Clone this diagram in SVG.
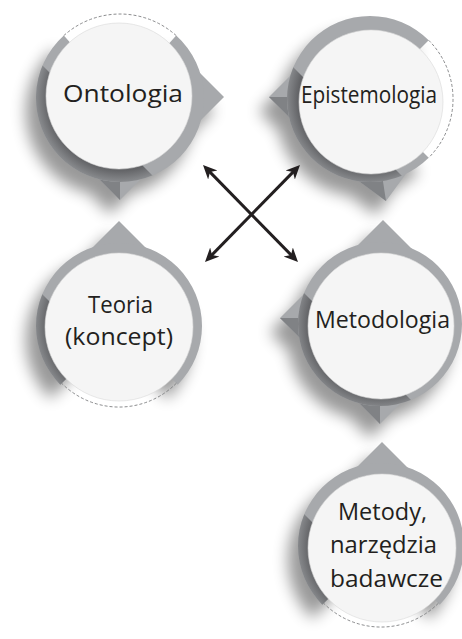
<svg xmlns="http://www.w3.org/2000/svg" width="462" height="639" viewBox="0 0 462 639">
<defs>
<style>
.light{fill:#a7a9ac}
.dark{fill:#808285}
.shade{fill:url(#shadeGrad)}
.shadow{fill:#000}
.disc{fill:#f5f5f5;stroke:#d9d9d9;stroke-width:0.6}
.dash{fill:none;stroke:#6d6e71;stroke-width:0.8;stroke-dasharray:3 2}
.lbl{font-family:"Open Sans","Noto Sans","DejaVu Sans",sans-serif;font-size:23px;fill:#231f20;text-anchor:middle}
.arrow{fill:none;stroke:#231f20;stroke-width:3;marker-start:url(#ah);marker-end:url(#ah)}
</style>
<radialGradient id="shadeGrad" gradientUnits="userSpaceOnUse" cx="0" cy="0" r="84">
<stop offset="0.86" stop-color="#636467"/>
<stop offset="1" stop-color="#898b8e"/>
</radialGradient>
<filter id="blur" x="-50%" y="-50%" width="200%" height="200%"><feGaussianBlur stdDeviation="7.5"/></filter>
<marker id="ah" viewBox="0 -8 16 16" refX="5" refY="0" markerWidth="16" markerHeight="16" markerUnits="userSpaceOnUse" orient="auto-start-reverse"><path d="M14,0 L0,-6.5 L4,0 L0,6.5 Z" fill="#231f20"/></marker>

<path id="ringA" d="M0,0 L56.2,-62.4 A84,84 0 1 1 -56.2,-62.4 Z"/>
<path id="ptrA" d="M104,-1 L68,35 L68,-37 Z M0,102 L-36,66 L36,66 Z"/>
<path id="ringB" d="M0,0 L58.7,58.7 A83,83 0 1 1 58.7,-58.7 Z"/>
<path id="ptrB" d="M-101,-2 L-65,-38 L-65,34 Z M16,102 L-25,72 L46,61 Z"/>
<path id="ringC" d="M0,0 L-58.7,58.7 A83,83 0 1 1 58.7,58.7 Z"/>
<path id="ptrC" d="M0,-105 L36,-69 L-36,-69 Z"/>
<path id="ringD" d="M-82,0 A82,82 0 1 1 82,0 A82,82 0 1 1 -82,0 Z"/>
<path id="ptrD" d="M3,-104 L39,-68 L-33,-68 Z M-100,-6 L-64,-42 L-64,30 Z M0,100 L-36,64 L36,64 Z"/>
<path id="ringE" d="M0,0 L-58.7,58.7 A83,83 0 1 1 58.7,58.7 Z"/>
<path id="ptrE" d="M1,-104 L37,-68 L-35,-68 Z"/>

<clipPath id="clipA"><use href="#ringA"/></clipPath>
<clipPath id="clipB"><use href="#ringB"/></clipPath>
<clipPath id="clipC"><use href="#ringC"/></clipPath>
<clipPath id="clipD"><use href="#ringD"/></clipPath>
<clipPath id="clipE"><use href="#ringE"/></clipPath>
</defs>

<rect x="0" y="0" width="462" height="639" fill="#ffffff"/>

<g id="node-ontologia" transform="translate(120,98)">
  <g class="shadow" filter="url(#blur)" opacity="0.4" transform="translate(-10,14)"><use href="#ptrA"/><use href="#ringA"/></g>
  <use href="#ptrA" class="light"/>
  <polygon class="dark" points="0,102 -36,66 0,66"/>
  <use href="#ringA" class="light"/>
  <g clip-path="url(#clipA)"><polygon class="shade" points="-220,-175 -220,220 175,220"/></g>
  <path class="dash" d="M-56.2,-62.4 A84,84 0 0 1 56.2,-62.4"/>
  <circle class="disc" cx="-1" cy="-2" r="73"/>
  <text class="lbl" x="3" y="4" textLength="120" lengthAdjust="spacingAndGlyphs">Ontologia</text>
</g>

<g id="node-epistemologia" transform="translate(370,99)">
  <g class="shadow" filter="url(#blur)" opacity="0.4" transform="translate(-10,14)"><use href="#ptrB"/><use href="#ringB"/></g>
  <use href="#ptrB" class="light"/>
  <polygon class="dark" points="-101,-2 -65,34 -65,-2"/>
  <polygon class="dark" points="16,102 -25,72 10.5,66.2"/>
  <use href="#ringB" class="light"/>
  <g clip-path="url(#clipB)"><polygon class="shade" points="-220,-175 -220,220 175,220"/></g>
  <path class="dash" d="M58.7,-58.7 A83,83 0 0 1 58.7,58.7"/>
  <circle class="disc" cx="1" cy="3" r="72"/>
  <text class="lbl" x="-1" y="4" textLength="136" lengthAdjust="spacingAndGlyphs">Epistemologia</text>
</g>

<g id="node-teoria" transform="translate(119,326)">
  <g class="shadow" filter="url(#blur)" opacity="0.4" transform="translate(-10,14)"><use href="#ptrC"/><use href="#ringC"/></g>
  <use href="#ptrC" class="light"/>
  <use href="#ringC" class="light"/>
  <g clip-path="url(#clipC)"><polygon class="shade" points="-220,-175 -220,220 175,220"/></g>
  <path class="dash" d="M57.3,57.3 A81,81 0 0 1 -57.3,57.3"/>
  <circle class="disc" cx="0" cy="1" r="74"/>
  <text class="lbl" x="1.5" y="-13" textLength="65" lengthAdjust="spacingAndGlyphs">Teoria</text>
  <text class="lbl" x="0" y="19" textLength="108" lengthAdjust="spacingAndGlyphs">(koncept)</text>
</g>

<g id="node-metodologia" transform="translate(380,324)">
  <g class="shadow" filter="url(#blur)" opacity="0.4" transform="translate(-10,14)"><use href="#ptrD"/><use href="#ringD"/></g>
  <use href="#ptrD" class="light"/>
  <polygon class="dark" points="-100,-6 -64,30 -64,-6"/>
  <polygon class="dark" points="0,100 -36,64 0,64"/>
  <use href="#ringD" class="light"/>
  <g clip-path="url(#clipD)"><polygon class="shade" points="-220,-175 -220,220 175,220"/></g>
  <circle class="disc" cx="1" cy="2" r="73"/>
  <text class="lbl" x="2.5" y="4" textLength="135" lengthAdjust="spacingAndGlyphs">Metodologia</text>
</g>

<g id="node-metody" transform="translate(381,546)">
  <g class="shadow" filter="url(#blur)" opacity="0.4" transform="translate(-10,14)"><use href="#ptrE"/><use href="#ringE"/></g>
  <use href="#ptrE" class="light"/>
  <use href="#ringE" class="light"/>
  <g clip-path="url(#clipE)"><polygon class="shade" points="-220,-175 -220,220 175,220"/></g>
  <path class="dash" d="M57.3,57.3 A81,81 0 0 1 -57.3,57.3"/>
  <circle class="disc" cx="1" cy="2" r="74"/>
  <text class="lbl" x="1.5" y="-26" textLength="89" lengthAdjust="spacingAndGlyphs">Metody,</text>
  <text class="lbl" x="2.5" y="7" textLength="107" lengthAdjust="spacingAndGlyphs">narzędzia</text>
  <text class="lbl" x="5.5" y="41" textLength="113" lengthAdjust="spacingAndGlyphs">badawcze</text>
</g>

<g id="connectors">
  <path class="arrow" d="M209.3,171.4 L291.7,255.6"/>
  <path class="arrow" d="M293.7,171.4 L211.3,255.6"/>
</g>
</svg>
